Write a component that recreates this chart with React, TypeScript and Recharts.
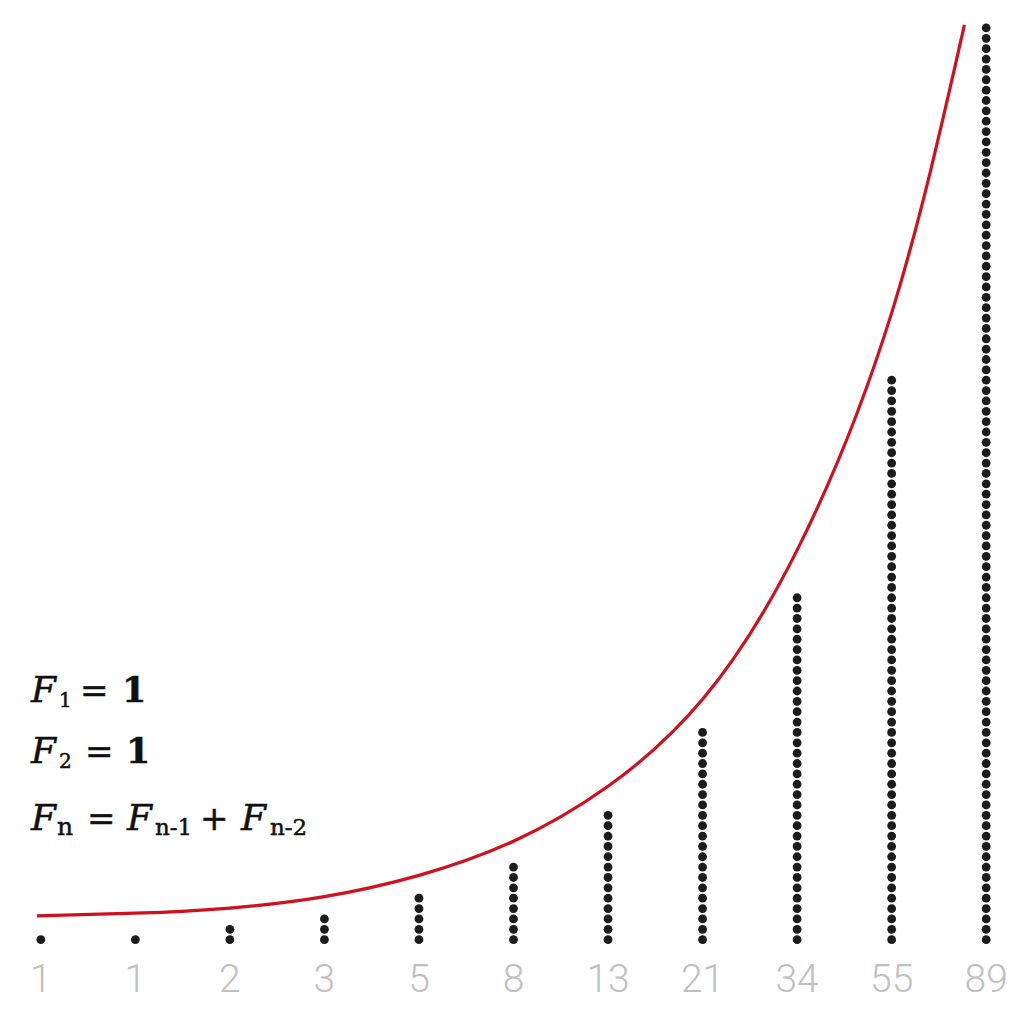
import React from "react";
import { ComposedChart, Scatter, Line, XAxis, YAxis } from "recharts";

// Fibonacci column values (dots per column)
const fibValues = [1, 1, 2, 3, 5, 8, 13, 21, 34, 55, 89];
const tickLabels = ["1", "1", "2", "3", "5", "8", "13", "21", "34", "55", "89"];
const columnIndex = [0, 1, 2, 3, 4, 5, 6, 7, 8, 9, 10];

// Red growth curve (x = column index, y = height in dot units)
const curveX = [-0.04, 1, 2, 3, 4, 5, 6, 7, 8, 9, 9.77];
const curveY = [3.3, 3.55, 4.05, 5.15, 7.2, 10.5, 15.8, 24.2, 38.6, 61.5, 89.3];

const dotData: { x: number; y: number }[] = [];
fibValues.forEach((v, i) => {
  for (let k = 1; k <= v; k++) dotData.push({ x: columnIndex[i], y: k });
});
const curveData = curveX.map((x, i) => ({ x, y: curveY[i] }));

const DotShape = (props: any) => {
  const { cx, cy } = props;
  return <circle cx={cx} cy={cy} r={4.4} fill="#1c1c1c" />;
};

const Tick = (props: any) => {
  const { x, y, payload } = props;
  const label = tickLabels[payload.value] ?? "";
  return (
    <text
      x={x}
      y={y + 34}
      textAnchor="middle"
      fill="#c0c0c0"
      fontFamily="Roboto, 'Liberation Sans', sans-serif"
      fontWeight={300}
      fontSize={39}
    >
      {label}
    </text>
  );
};

const serif = "'DejaVu Serif', 'Liberation Serif', serif";

export default function App() {
  return (
    <div style={{ position: "absolute", left: 0, top: 0, width: 1024, height: 1023, background: "#fff" }}>
      <ComposedChart
        width={1024}
        height={1023}
        margin={{ top: 0, right: 0, bottom: 43, left: 3 }}
      >
        <XAxis
          dataKey="x"
          type="number"
          domain={[-0.4, 10.4]}
          ticks={columnIndex}
          axisLine={false}
          tickLine={false}
          height={30}
          tick={<Tick />}
          allowDataOverflow
        />
        <YAxis type="number" dataKey="y" domain={[0, 91.7]} hide width={0} allowDataOverflow />
        <Scatter data={dotData} shape={<DotShape />} isAnimationActive={false} />
        <Line
          data={curveData}
          dataKey="y"
          type="natural"
          stroke="#d0101f"
          strokeWidth={3.2}
          dot={false}
          activeDot={false}
          isAnimationActive={false}
        />
      </ComposedChart>
      <svg
        width={1024}
        height={1023}
        style={{ position: "absolute", left: 0, top: 0, pointerEvents: "none" }}
      >
        <g fontFamily={serif} fill="#111" stroke="#111" strokeWidth={0.5}>
          {/* F1 = 1 */}
          <text x={31} y={702} fontSize={36} fontStyle="italic">F</text>
          <text x={59} y={707} fontSize={20}>1</text>
          <text x={80} y={702} fontSize={34}>=</text>
          <text x={122} y={702} fontSize={35} fontWeight="bold">1</text>
          {/* F2 = 1 */}
          <text x={31} y={763} fontSize={36} fontStyle="italic">F</text>
          <text x={59} y={768} fontSize={20}>2</text>
          <text x={85} y={763} fontSize={34}>=</text>
          <text x={126} y={763} fontSize={35} fontWeight="bold">1</text>
          {/* Fn = Fn-1 + Fn-2 */}
          <text x={31} y={830} fontSize={36} fontStyle="italic">F</text>
          <text x={57} y={835} fontSize={25}>n</text>
          <text x={87} y={830} fontSize={34}>=</text>
          <text x={127} y={830} fontSize={36} fontStyle="italic">F</text>
          <text x={155} y={835} fontSize={23}>n-1</text>
          <text x={200} y={830} fontSize={34}>+</text>
          <text x={241} y={830} fontSize={36} fontStyle="italic">F</text>
          <text x={270} y={835} fontSize={23}>n-2</text>
        </g>
      </svg>
    </div>
  );
}
